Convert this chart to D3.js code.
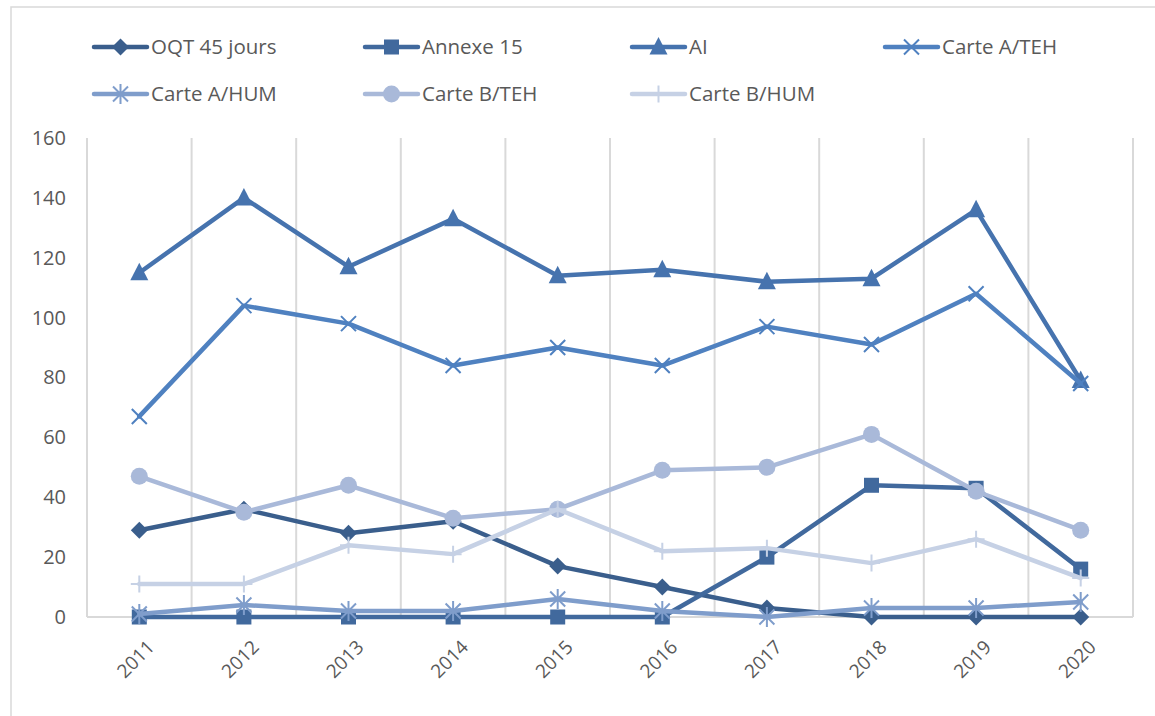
<!DOCTYPE html>
<html lang="fr">
<head>
  <meta charset="UTF-8" />
  <title>Graphique</title>
  <script src="https://cdn.jsdelivr.net/npm/d3@7"></script>
  <style>
    body { margin: 0; background: #fff; }
    text { font-family: "Open Sans", "Liberation Sans", sans-serif; fill: #595959; }
  </style>
</head>
<body>
<script>
  var w = 1155;
  var h = 716;

  var years = ["2011", "2012", "2013", "2014", "2015", "2016", "2017", "2018", "2019", "2020"];
  var seriesNames = ["OQT 45 jours", "Annexe 15", "AI", "Carte A/TEH", "Carte A/HUM", "Carte B/TEH", "Carte B/HUM"];
  var oqt = [29, 36, 28, 32, 17, 10, 3, 0, 0, 0];
  var annexe15 = [0, 0, 0, 0, 0, 0, 20, 44, 43, 16];
  var ai = [115, 140, 117, 133, 114, 116, 112, 113, 136, 79];
  var carteATeh = [67, 104, 98, 84, 90, 84, 97, 91, 108, 78];
  var carteAHum = [1, 4, 2, 2, 6, 2, 0, 3, 3, 5];
  var carteBTeh = [47, 35, 44, 33, 36, 49, 50, 61, 42, 29];
  var carteBHum = [11, 11, 24, 21, 36, 22, 23, 18, 26, 13];
  var yTicks = [0, 20, 40, 60, 80, 100, 120, 140, 160];

  var colors = ["#3a5e8c", "#41699d", "#4673ae", "#4f81c0", "#7f9dcb", "#a9b9d9", "#c6d1e5"];
  var markers = ["diamond", "square", "triangle", "x", "asterisk", "circle", "plus"];
  var values = [oqt, annexe15, ai, carteATeh, carteAHum, carteBTeh, carteBHum];

  var series = seriesNames.map(function(n, i) {
    return { name: n, color: colors[i], marker: markers[i], values: values[i] };
  });

  var margin = { top: 138, left: 87, right: 22, bottom: 99 };

  var svg = d3.select("body").append("svg")
    .attr("width", w)
    .attr("height", h);

  // chart border
  svg.append("rect")
    .attr("x", 11).attr("y", 7)
    .attr("width", 1170).attr("height", 730)
    .attr("fill", "none")
    .attr("stroke", "#d9d9d9")
    .attr("stroke-width", 1.5);

  var xScale = d3.scaleBand()
    .domain(years)
    .range([margin.left, w - margin.right]);

  var yScale = d3.scaleLinear()
    .domain([0, 160])
    .range([h - margin.bottom, margin.top]);

  // vertical gridlines
  var edges = years.map(function(y) { return xScale(y); }).concat([xScale.range()[1]]);
  svg.selectAll(".vgrid")
    .data(edges)
    .enter()
    .append("line")
    .attr("x1", function(d) { return d; })
    .attr("x2", function(d) { return d; })
    .attr("y1", yScale(160))
    .attr("y2", yScale(0))
    .attr("stroke", "#d9d9d9")
    .attr("stroke-width", 2);

  // baseline
  svg.append("line")
    .attr("x1", xScale.range()[0]).attr("x2", xScale.range()[1])
    .attr("y1", yScale(0)).attr("y2", yScale(0))
    .attr("stroke", "#d9d9d9")
    .attr("stroke-width", 2);

  // y axis labels
  var yAxis = d3.axisLeft(yScale).tickValues(yTicks).tickSize(0).tickPadding(0);
  var gy = svg.append("g")
    .attr("transform", "translate(" + (margin.left - 21) + ",0)")
    .call(yAxis);
  gy.select(".domain").remove();
  gy.selectAll("text")
    .attr("font-size", "20px")
    .attr("fill", "#595959")
    .style("font-family", "'Open Sans', sans-serif");

  // x axis labels
  var xAxis = d3.axisBottom(xScale).tickSize(0).tickPadding(0);
  var gx = svg.append("g")
    .attr("transform", "translate(0," + (yScale(0) + 22) + ")")
    .call(xAxis);
  gx.select(".domain").remove();
  gx.selectAll("text")
    .attr("font-size", "19px")
    .attr("fill", "#595959")
    .style("font-family", "'Open Sans', sans-serif")
    .attr("text-anchor", "end")
    .attr("dy", "0.7em")
    .attr("transform", "translate(7,0) rotate(-45)");

  function drawMarker(g, type, color) {
    if (type == "diamond") {
      g.append("path").attr("d", "M0,-8.5L8.5,0L0,8.5L-8.5,0Z").attr("fill", color);
    } else if (type == "square") {
      g.append("rect").attr("x", -7.5).attr("y", -7.5).attr("width", 15).attr("height", 15).attr("fill", color);
    } else if (type == "triangle") {
      g.append("path").attr("d", "M0,-10L9,7.5L-9,7.5Z").attr("fill", color);
    } else if (type == "circle") {
      g.append("circle").attr("r", 8.5).attr("fill", color);
    } else if (type == "x") {
      g.append("path").attr("d", "M-7.5,-7.5L7.5,7.5M-7.5,7.5L7.5,-7.5").attr("stroke", color).attr("stroke-width", 2).attr("fill", "none");
    } else if (type == "asterisk") {
      g.append("path").attr("d", "M-7.5,-7.5L7.5,7.5M-7.5,7.5L7.5,-7.5M0,-10L0,10").attr("stroke", color).attr("stroke-width", 2).attr("fill", "none");
    } else if (type == "plus") {
      g.append("path").attr("d", "M-8.5,0L8.5,0M0,-8.5L0,8.5").attr("stroke", color).attr("stroke-width", 2).attr("fill", "none");
    }
  }

  var line = d3.line()
    .x(function(d, i) { return xScale(years[i]) + xScale.bandwidth() / 2; })
    .y(function(d) { return yScale(d); });

  series.forEach(function(s) {
    var g = svg.append("g");
    g.append("path")
      .attr("d", line(s.values))
      .attr("fill", "none")
      .attr("stroke", s.color)
      .attr("stroke-width", 4.5)
      .attr("stroke-linejoin", "round")
      .attr("stroke-linecap", "round");
    s.values.forEach(function(v, i) {
      var m = g.append("g")
        .attr("transform", "translate(" + (xScale(years[i]) + xScale.bandwidth() / 2) + "," + yScale(v) + ")");
      drawMarker(m, s.marker, s.color);
    });
  });

  // legend
  var legendX = [94, 365, 632, 885];
  var legendY = [47, 94];
  series.forEach(function(s, i) {
    var lx = legendX[i % 4];
    var ly = legendY[Math.floor(i / 4)];
    var g = svg.append("g").attr("transform", "translate(" + lx + "," + ly + ")");
    g.append("line")
      .attr("x1", 0).attr("x2", 53)
      .attr("y1", 0).attr("y2", 0)
      .attr("stroke", s.color)
      .attr("stroke-width", 4.5)
      .attr("stroke-linecap", "round");
    drawMarker(g.append("g").attr("transform", "translate(26.5,0)"), s.marker, s.color);
    g.append("text")
      .attr("x", 57)
      .attr("y", 0)
      .attr("dy", "0.35em")
      .attr("font-size", "20.5px")
      .text(s.name);
  });
</script>
</body>
</html>
